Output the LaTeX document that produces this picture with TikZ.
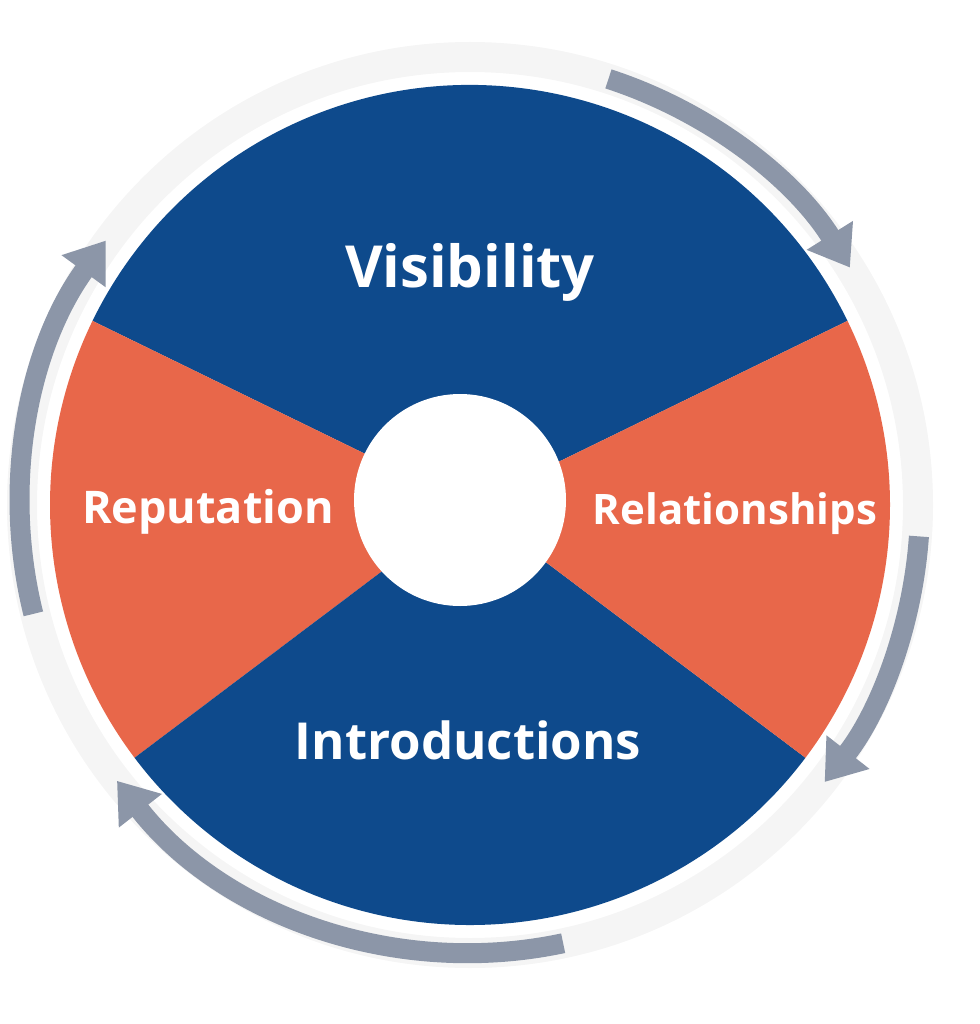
\documentclass[tikz,border=0pt]{standalone}
\usepackage{fontspec}
\setmainfont{Open Sans}
\usetikzlibrary{arrows.meta,calc}
\definecolor{bl}{HTML}{0E4A8C}
\definecolor{orx}{HTML}{E8674A}
\definecolor{ar}{HTML}{8C96A8}
\begin{document}
\begin{tikzpicture}[x=1pt,y=1pt,
  lab/.style={text=white,font=\bfseries,inner sep=0},
  cyc/.style={line width=20pt,ar,-{Triangle[width=52pt,length=38pt]}}]
\useasboundingbox (0,0) rectangle (979,-1024);
\coordinate (c) at (470,-505);
\draw[gray!8,line width=30pt] (c) circle (448);
\fill[bl] (c) -- ++(26:420) arc (26:154:420) -- cycle;
\fill[orx] (c) -- ++(154:420) arc (154:217:420) -- cycle;
\fill[bl] (c) -- ++(217:420) arc (217:323:420) -- cycle;
\fill[orx] (c) -- ++(323:420) arc (323:386:420) -- cycle;
\fill[white] (460,-500) circle (106);
\draw[cyc] ($(c)+(72:448)$) arc (72:32:448);
\draw[cyc] ($(c)+(-4:450)$) arc (-4:-38:450);
\draw[cyc] ($(c)+(-78:448)$) arc (-78:-142:448);
\draw[cyc] ($(c)+(194:450)$) arc (194:144:450);
\node[lab,font=\bfseries\fontsize{58}{66}\selectfont] (v) at (470,-272) {Visibility};
\node[lab,font=\bfseries\fontsize{45}{52}\selectfont] (rp) at (208,-512) {Reputation};
\node[lab,font=\bfseries\fontsize{42}{50}\selectfont] (rl) at (735,-514) {Relationships};
\node[lab,font=\bfseries\fontsize{51}{60}\selectfont] (in) at (468,-740) {Introductions};
\end{tikzpicture}
\end{document}
